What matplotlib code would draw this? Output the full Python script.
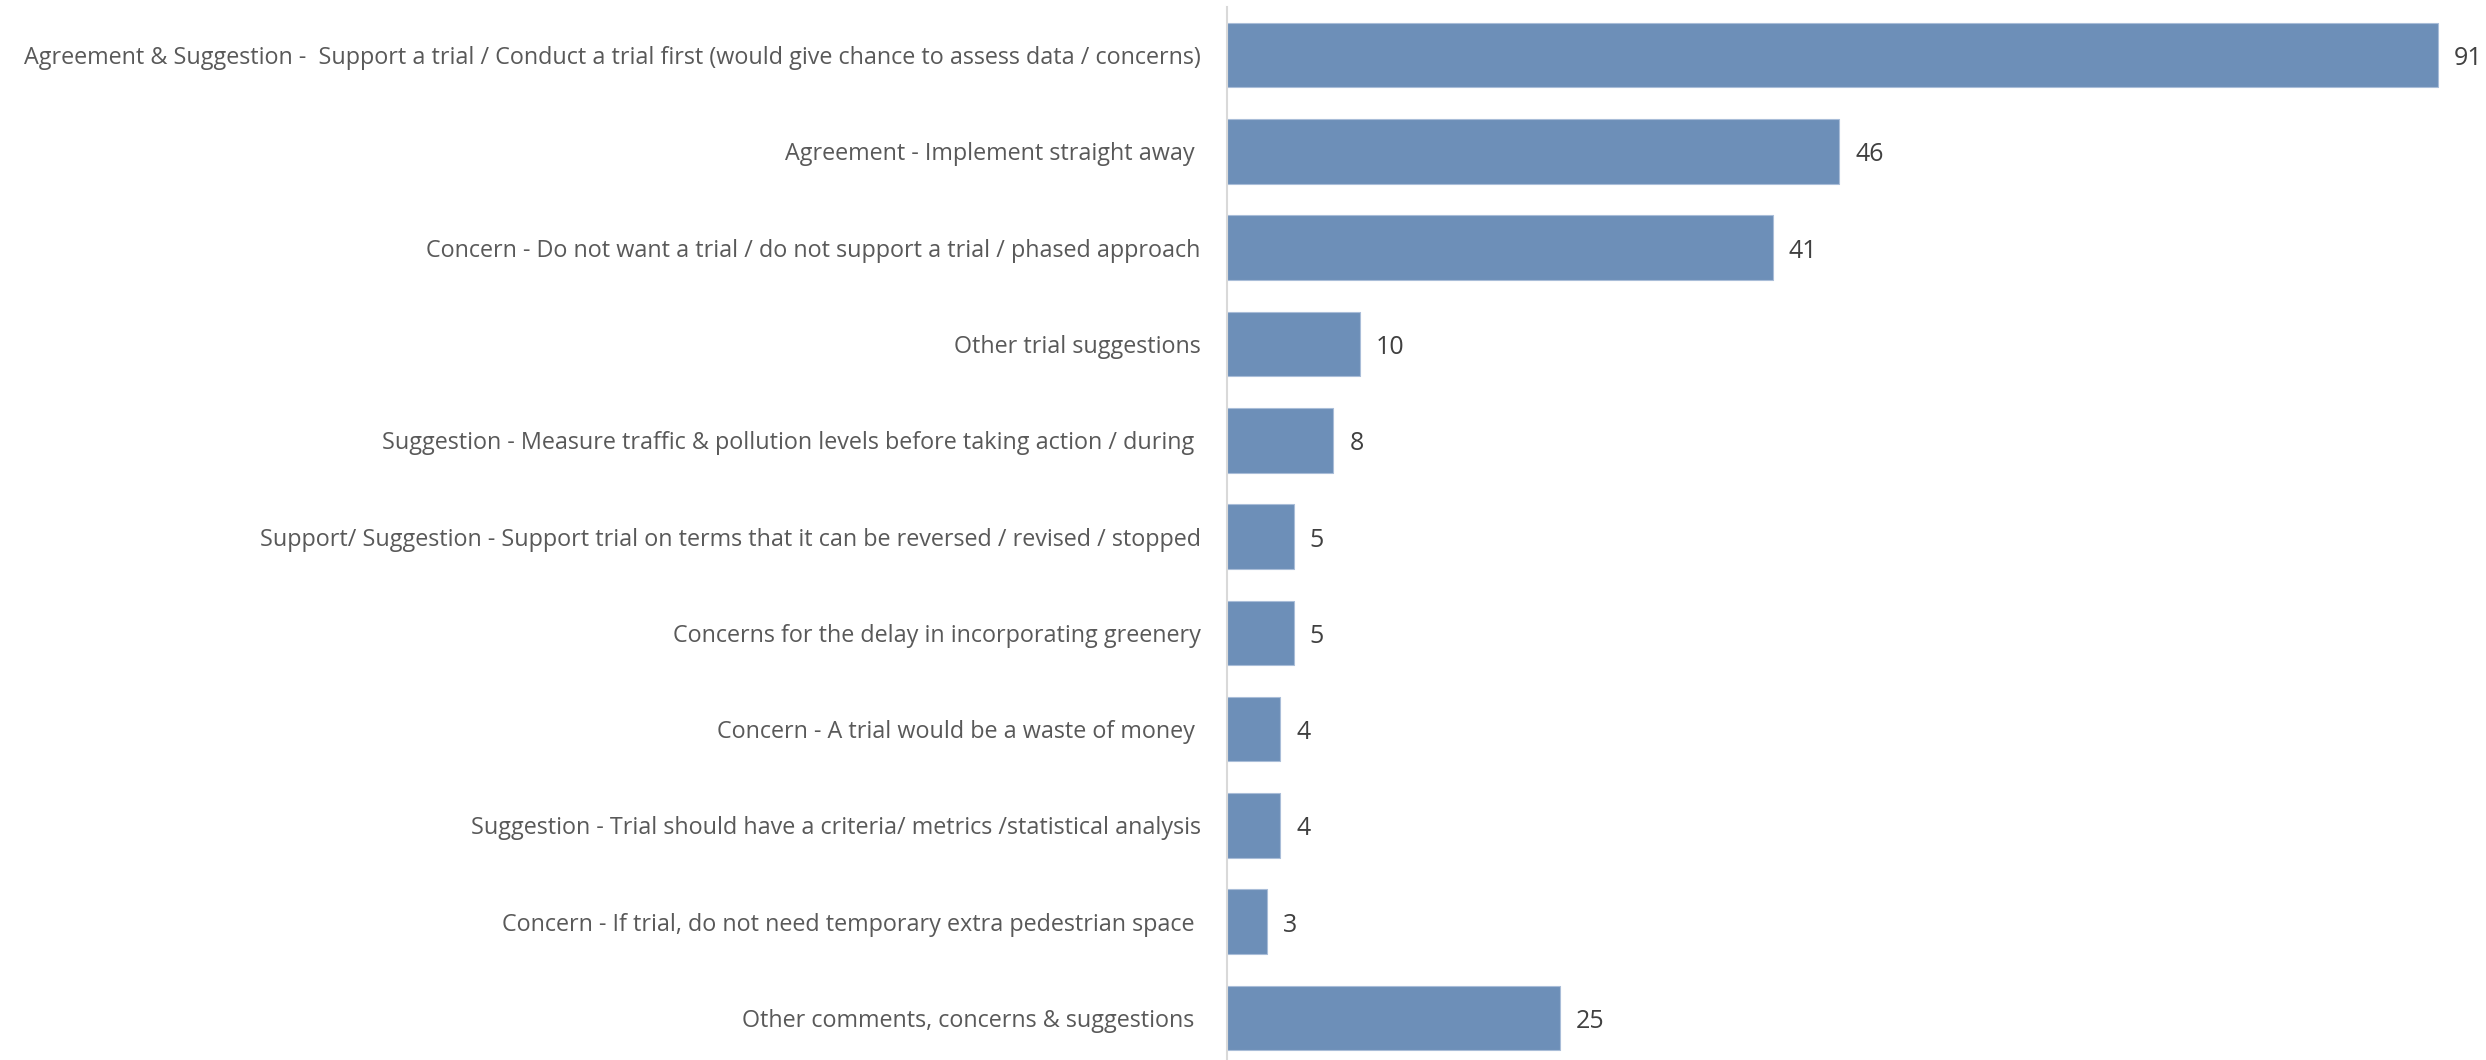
import matplotlib
matplotlib.use("Agg")
import matplotlib.pyplot as plt

categories = [
    "Agreement & Suggestion -  Support a trial / Conduct a trial first (would give chance to assess data / concerns)",
    "Agreement - Implement straight away ",
    "Concern - Do not want a trial / do not support a trial / phased approach",
    "Other trial suggestions",
    "Suggestion - Measure traffic & pollution levels before taking action / during ",
    "Support/ Suggestion - Support trial on terms that it can be reversed / revised / stopped",
    "Concerns for the delay in incorporating greenery",
    "Concern - A trial would be a waste of money ",
    "Suggestion - Trial should have a criteria/ metrics /statistical analysis",
    "Concern - If trial, do not need temporary extra pedestrian space ",
    "Other comments, concerns & suggestions ",
]
counts = [91, 46, 41, 10, 8, 5, 5, 4, 4, 3, 25]

plt.rcParams["font.family"] = ["Open Sans", "DejaVu Sans"]

W, H = 2486, 1060
fig = plt.figure(figsize=(W / 100, H / 100), dpi=100)
ax = fig.add_axes([1227 / W, 0, (93 * 13.31) / W, 1 - 7 / H])

ypos = list(range(len(categories)))
ax.barh(ypos, counts, height=0.67, color="#6D8FB8", edgecolor="#A9BDD8", linewidth=0.8)

ax.set_xlim(0, 93)
ax.set_ylim(10.436, -0.5)

ax.set_yticks(ypos)
ax.set_yticklabels(categories, fontsize=16.8, color="#595959")
ax.tick_params(axis="y", length=0, pad=19)
ax.set_xticks([])

for s in ["top", "right", "bottom"]:
    ax.spines[s].set_visible(False)
ax.spines["left"].set_color("#D9D9D9")
ax.spines["left"].set_linewidth(1.5)

for y, v in zip(ypos, counts):
    ax.annotate(str(v), xy=(v, y), xytext=(11.5, -2.5), textcoords="offset points",
                ha="left", va="center", fontsize=18, color="#404040")

fig.savefig("out.png", dpi=100, facecolor="white")
